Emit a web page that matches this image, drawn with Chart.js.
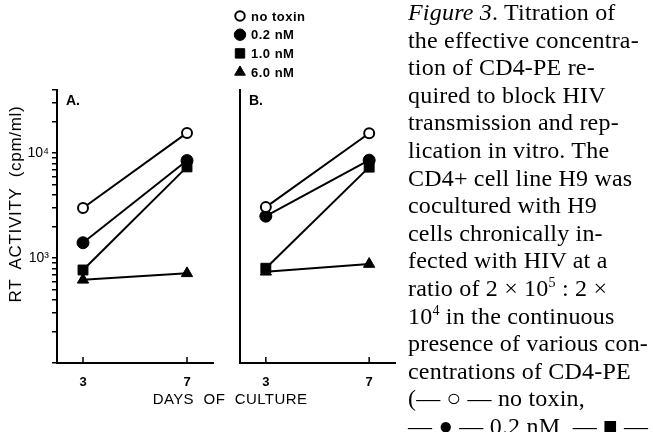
<!DOCTYPE html>
<html lang="en">
<head>
    <meta charset="UTF-8">
    <title>Figure 3 - Titration of CD4-PE</title>
    <script src="https://cdn.jsdelivr.net/npm/chart.js"></script>
    <style>
        body { margin: 0; background: white; }
        #wrap { position: relative; width: 653px; height: 432px; overflow: hidden; background: white; }
        canvas { position: absolute; top: 0; }
        #chartA { left: 0; }
        #chartB { left: 200px; }
        .sans { font-family: "Liberation Sans", Arial, sans-serif; color: #000; }
        #ytitle { position: absolute; left: -94px; top: 194px; width: 220px; height: 20px; line-height: 20px;
                  text-align: center; font-size: 17px; letter-spacing: 0.7px; word-spacing: 5px;
                  transform: rotate(-90deg); white-space: nowrap; }
        #xtitle { position: absolute; left: 130px; top: 390px; width: 200px; line-height: 18px;
                  text-align: center; font-size: 15px; letter-spacing: 0.4px; word-spacing: 5px; white-space: nowrap; }
        #caption { position: absolute; left: 408px; top: -1px; width: 260px; z-index: 2;
                   font-family: "Liberation Serif", "Times New Roman", serif; font-size: 24px; line-height: 27.6px;
                   letter-spacing: 0.2px; color: #000; white-space: nowrap; }
        #caption sup { font-size: 14px; line-height: 0; vertical-align: 9px; }
    </style>
</head>
<body>
<div id="wrap">
    <canvas id="chartA" width="225" height="432"></canvas>
    <canvas id="chartB" width="215" height="432"></canvas>
    <div id="ytitle" class="sans">RT ACTIVITY (cpm/ml)</div>
    <div id="xtitle" class="sans">DAYS OF CULTURE</div>
    <div id="caption">
        <i>Figure 3</i>. Titration of<br>
        the effective concentra-<br>
        tion of CD4-PE re-<br>
        quired to block HIV<br>
        transmission and rep-<br>
        lication in vitro. The<br>
        CD4+ cell line H9 was<br>
        cocultured with H9<br>
        cells chronically in-<br>
        fected with HIV at a<br>
        ratio of 2 × 10<sup>5</sup> : 2 ×<br>
        10<sup>4</sup> in the continuous<br>
        presence of various con-<br>
        centrations of CD4-PE<br>
        (— ○ — no toxin,<br>
        — ● — 0.2 nM, — ■ —
    </div>
</div>

<script>
    // days sampled
    const days = [3, 7];
    const seriesLabels = ['no toxin', '0.2 nM', '1.0 nM', '6.0 nM'];

    // panel A, RT activity (cpm/ml)
    const noToxinA = [3000, 15600];
    const nM02A = [1400, 8500];
    const nM10A = [770, 7400];
    const nM60A = [620, 715];

    // panel B
    const noToxinB = [3060, 15500];
    const nM02B = [2510, 8580];
    const nM10B = [800, 7360];
    const nM60B = [740, 877];

    // y axis ticks (log scale) and the ones that get a label
    const yTickValues = [100, 200, 300, 400, 500, 600, 700, 800, 900,
        1000, 2000, 3000, 4000, 5000, 6000, 7000, 8000, 9000,
        10000, 20000, 30000, 40000];
    const yLabelValues = [1000, 10000];
    const yLabelText = ['10³', '10⁴'];

    Chart.defaults.font.family = '"Liberation Sans", Arial, sans-serif';
    Chart.defaults.color = '#000';

    const markers = [
        { pointStyle: 'circle', pointRadius: 5, pointBackgroundColor: '#fff', pointBorderWidth: 2 },
        { pointStyle: 'circle', pointRadius: 6, pointBackgroundColor: '#000', pointBorderWidth: 1 },
        { pointStyle: 'rect', pointRadius: 7, pointBackgroundColor: '#000', pointBorderWidth: 1 },
        { pointStyle: 'triangle', pointRadius: 6.5, pointBackgroundColor: '#000', pointBorderWidth: 1 }
    ];

    function makeDatasets(series) {
        return series.map((vals, i) => Object.assign({
            label: seriesLabels[i],
            data: days.map((d, j) => ({ x: d, y: vals[j] })),
            borderColor: '#000',
            borderWidth: 2,
            pointBorderColor: '#000',
            pointHoverRadius: 6
        }, markers[i]));
    }

    // inward tick marks on the x axis + panel letter
    const panelDecor = {
        id: 'panelDecor',
        afterDraw(chart, args, opts) {
            const ctx = chart.ctx;
            const xs = chart.scales.x;
            ctx.save();
            ctx.strokeStyle = '#000';
            ctx.lineWidth = 1.5;
            ctx.beginPath();
            xs.ticks.forEach(t => {
                const px = xs.getPixelForValue(t.value);
                ctx.moveTo(px, xs.top);
                ctx.lineTo(px, xs.top - 6);
            });
            ctx.stroke();
            ctx.fillStyle = '#000';
            ctx.font = 'bold 14px "Liberation Sans", Arial, sans-serif';
            ctx.textBaseline = 'middle';
            ctx.fillText(opts.letter, chart.chartArea.left + 9, chart.chartArea.top + 11);
            ctx.restore();
        }
    };

    // vertical key drawn above panel B
    const keyPlugin = {
        id: 'keyPlugin',
        afterDraw(chart) {
            const ctx = chart.ctx;
            const x0 = chart.chartArea.left;
            ctx.save();
            ctx.font = 'bold 13px "Liberation Sans", Arial, sans-serif';
            ctx.letterSpacing = '0.5px';
            ctx.textBaseline = 'middle';
            chart.data.datasets.forEach((ds, i) => {
                const y = 16 + i * 18.7;
                ctx.fillStyle = ds.pointBackgroundColor;
                ctx.strokeStyle = '#000';
                ctx.lineWidth = ds.pointBorderWidth;
                Chart.helpers.drawPoint(ctx, {
                    pointStyle: ds.pointStyle,
                    radius: ds.pointRadius * 0.95,
                    rotation: 0,
                    borderWidth: ds.pointBorderWidth
                }, x0, y);
                ctx.fillStyle = '#000';
                ctx.fillText(ds.label, x0 + 11, y + 1);
            });
            ctx.restore();
        }
    };

    function setTicks(values) {
        return scale => { scale.ticks = values.map(v => ({ value: v })); };
    }

    function makeOptions(letter, yWidth, padRight, showYTicks) {
        return {
            responsive: false,
            animation: false,
            devicePixelRatio: 1,
            layout: { padding: { top: 90, right: padRight, bottom: 0, left: 0 } },
            plugins: {
                legend: { display: false },
                tooltip: { enabled: false },
                panelDecor: { letter: letter }
            },
            scales: {
                x: {
                    type: 'linear',
                    min: 2,
                    max: 8,
                    afterBuildTicks: setTicks(days),
                    afterFit: s => { s.height = 69; },
                    grid: { display: false },
                    border: { display: true, color: '#000', width: 2 },
                    ticks: {
                        padding: 4,
                        font: { size: 13, weight: 'bold' },
                        callback: v => String(v)
                    }
                },
                y: {
                    type: 'logarithmic',
                    min: 100,
                    max: 40000,
                    afterBuildTicks: setTicks(yTickValues),
                    afterFit: s => { s.width = yWidth; },
                    border: { display: true, color: '#000', width: 2 },
                    grid: {
                        display: showYTicks,
                        drawOnChartArea: false,
                        drawTicks: true,
                        tickLength: 5,
                        color: '#000',
                        lineWidth: 1.5
                    },
                    ticks: {
                        display: showYTicks,
                        padding: 3,
                        autoSkip: false,
                        font: { size: 14 },
                        callback: v => {
                            const k = yLabelValues.indexOf(v);
                            return k >= 0 ? yLabelText[k] : '';
                        }
                    }
                }
            }
        };
    }

    new Chart(document.getElementById('chartA'), {
        type: 'line',
        data: { datasets: makeDatasets([noToxinA, nM02A, nM10A, nM60A]) },
        options: makeOptions('A.', 57, 12, true),
        plugins: [panelDecor]
    });

    new Chart(document.getElementById('chartB'), {
        type: 'line',
        data: { datasets: makeDatasets([noToxinB, nM02B, nM10B, nM60B]) },
        options: makeOptions('B.', 40, 20, false),
        plugins: [panelDecor, keyPlugin]
    });
</script>
</body>
</html>
